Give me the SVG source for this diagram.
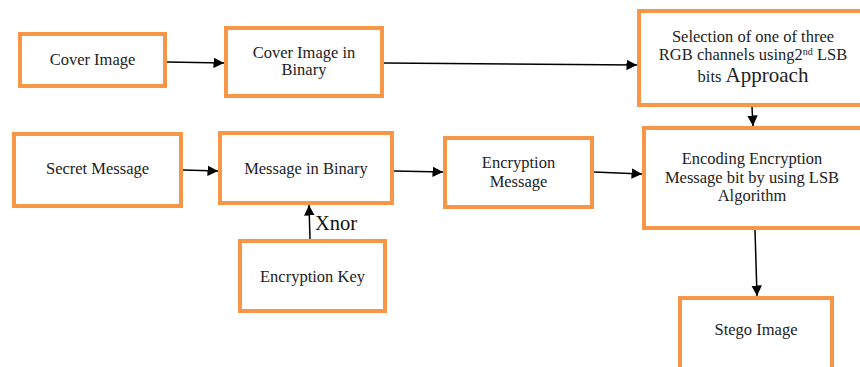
<svg xmlns="http://www.w3.org/2000/svg" width="860" height="367" viewBox="0 0 860 367">
<style>
.box{fill:#fff;stroke:#F79646;stroke-width:4;}
.t{font-family:'Liberation Serif',serif;font-size:16.5px;fill:#222;text-anchor:middle;}
.c{stroke:#000;stroke-width:1.5;fill:none;marker-end:url(#ah);}
</style>
<defs>
<marker id="ah" viewBox="0 0 10 10" refX="10" refY="5" markerWidth="7" markerHeight="7" orient="auto" markerUnits="strokeWidth">
<path d="M0,0 L10,5 L0,10 z" fill="#000"/>
</marker>
</defs>
<rect width="860" height="367" fill="#fff"/>
<g id="connectors">
<line class="c" x1="167" y1="62" x2="224" y2="63"/>
<line class="c" x1="384" y1="63" x2="637" y2="65"/>
<line class="c" x1="183" y1="170" x2="218" y2="171"/>
<line class="c" x1="394" y1="171" x2="443" y2="172"/>
<line class="c" x1="594" y1="172" x2="642" y2="174"/>
<line class="c" x1="310" y1="239" x2="309" y2="205"/>
<line class="c" x1="752" y1="107" x2="753" y2="126"/>
<line class="c" x1="755" y1="230" x2="757" y2="296"/>
<text x="315" y="230" font-family="Liberation Serif, serif" font-size="20.5" fill="#111">Xnor</text>
</g>
<g id="cover-image">
<rect class="box" x="20" y="34" width="145" height="52"/>
<text class="t" font-family="Liberation Serif, serif" x="92.5" y="64.5">Cover Image</text>
</g>
<g id="cover-binary">
<rect class="box" x="226" y="28" width="156" height="68"/>
<text class="t" font-family="Liberation Serif, serif" x="304" y="57.5">Cover Image in</text>
<text class="t" font-family="Liberation Serif, serif" x="304" y="75">Binary</text>
</g>
<g id="selection">
<rect class="box" x="639" y="11" width="228" height="94"/>
<text class="t" font-family="Liberation Serif, serif" x="753" y="41.5">Selection of one of three</text>
<text class="t" font-family="Liberation Serif, serif" x="753" y="60">RGB channels using2<tspan dy="-5" font-size="10">nd</tspan><tspan dy="5"> LSB</tspan></text>
<text class="t" font-family="Liberation Serif, serif" x="753" y="81.5">bits <tspan font-size="21">Approach</tspan></text>
</g>
<g id="secret-message">
<rect class="box" x="14" y="134" width="167" height="72"/>
<text class="t" font-family="Liberation Serif, serif" x="97.5" y="174">Secret Message</text>
</g>
<g id="message-binary">
<rect class="box" x="220" y="133" width="172" height="70"/>
<text class="t" font-family="Liberation Serif, serif" x="306" y="174">Message in Binary</text>
</g>
<g id="encryption-key">
<rect class="box" x="240" y="241" width="145" height="70"/>
<text class="t" font-family="Liberation Serif, serif" x="312.5" y="281.5">Encryption Key</text>
</g>
<g id="encryption-message">
<rect class="box" x="445" y="138" width="147" height="69"/>
<text class="t" font-family="Liberation Serif, serif" x="518.5" y="168">Encryption</text>
<text class="t" font-family="Liberation Serif, serif" x="518.5" y="186.5">Message</text>
</g>
<g id="encoding">
<rect class="box" x="644" y="128" width="222" height="100"/>
<text class="t" font-family="Liberation Serif, serif" x="752" y="164">Encoding Encryption</text>
<text class="t" font-family="Liberation Serif, serif" x="752" y="182.5">Message bit by using LSB</text>
<text class="t" font-family="Liberation Serif, serif" x="752" y="201">Algorithm</text>
</g>
<g id="stego-image">
<rect class="box" x="680" y="298" width="152" height="74"/>
<text class="t" font-family="Liberation Serif, serif" x="756" y="335">Stego Image</text>
</g>
</svg>
